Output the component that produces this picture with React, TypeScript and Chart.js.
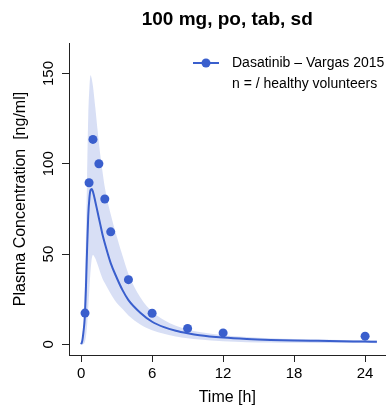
import React, { useEffect, useRef } from "react";
import { Chart, registerables } from "chart.js";

Chart.register(...registerables);

// Observed data (Vargas 2015)
const obsTime = [0.33, 0.67, 1, 1.5, 2, 2.5, 4, 6, 9, 12, 24];
const obsConc = [17.3, 89.5, 113.5, 100, 80.5, 62.3, 35.8, 17.2, 8.8, 6.3, 4.5];

// Simulated profile
const simTime = [0, 0.1, 0.2, 0.3, 0.4, 0.5, 0.6, 0.7, 0.8, 0.9, 1.0, 1.2, 1.4, 1.6, 1.8, 2.0, 2.5, 3, 3.5, 4, 5, 6, 7, 8, 9, 10, 12, 14, 16, 18, 20, 22, 24, 25];
const simMean = [0, 2, 7, 14, 30, 52, 71, 81, 85.5, 86, 84.5, 79, 73, 67, 61, 56, 45, 37, 30, 24.5, 17.5, 12.5, 9.5, 7.5, 6.1, 5, 3.7, 2.9, 2.4, 2.1, 1.9, 1.7, 1.5, 1.4];
const simUpper = [0, 2, 10, 30, 57, 92, 126, 142, 149, 147, 143, 131, 118, 106, 96, 87, 72, 60, 49, 39, 26, 18, 13.5, 10.3, 8.2, 6.8, 5, 4, 3.3, 2.9, 2.6, 2.4, 2.2, 2.1];
const simLower = [0, 0, 0.3, 1, 4, 10, 20, 31, 41, 47.5, 49.5, 47.5, 44, 40, 36.5, 34, 28, 23, 19.5, 16, 11, 7.8, 5.8, 4.3, 3.3, 2.6, 1.7, 1.2, 1.0, 0.85, 0.75, 0.7, 0.65, 0.6];

// Axis ticks
const xTicks = [0, 6, 12, 18, 24];
const yTicks = [0, 50, 100, 150];

// Texts
const titleText = "100 mg, po, tab, sd";
const xTitle = "Time [h]";
const yTitle = "Plasma Concentration  [ng/ml]";
const legendLines = ["Dasatinib \u2013 Vargas 2015", "n = / healthy volunteers"];

const BLUE = "#3A5FCD";
const BAND = "rgba(58,95,205,0.2)";
const FONT = "'Liberation Sans', Arial, Helvetica, sans-serif";

export default function App() {
  const ref = useRef<HTMLCanvasElement>(null);

  useEffect(() => {
    document.body.style.margin = "0";
    const canvas = ref.current!;
    const toXY = (xs: number[], ys: number[]) => xs.map((x, i) => ({ x, y: ys[i] }));

    const legendPlugin = {
      id: "customLegend",
      afterDraw(chart: any) {
        const ctx = chart.ctx as CanvasRenderingContext2D;
        ctx.save();
        ctx.strokeStyle = BLUE;
        ctx.lineWidth = 2;
        ctx.beginPath();
        ctx.moveTo(193, 63);
        ctx.lineTo(219, 63);
        ctx.stroke();
        ctx.fillStyle = BLUE;
        ctx.beginPath();
        ctx.arc(206, 63, 4.5, 0, Math.PI * 2);
        ctx.fill();
        ctx.fillStyle = "#000";
        ctx.font = `14px ${FONT}`;
        ctx.textAlign = "left";
        ctx.textBaseline = "middle";
        ctx.fillText(legendLines[0], 232, 63);
        ctx.fillText(legendLines[1], 232, 84);
        ctx.restore();
      },
    };

    const chart = new Chart(canvas, {
      type: "line",
      data: {
        datasets: [
          {
            label: "upper",
            data: toXY(simTime, simUpper),
            borderWidth: 0,
            pointRadius: 0,
            fill: "+1",
            backgroundColor: BAND,
            borderColor: "rgba(0,0,0,0)",
            cubicInterpolationMode: "monotone",
            order: 3,
          },
          {
            label: "lower",
            data: toXY(simTime, simLower),
            borderWidth: 0,
            pointRadius: 0,
            fill: false,
            borderColor: "rgba(0,0,0,0)",
            cubicInterpolationMode: "monotone",
            order: 3,
          },
          {
            label: "mean",
            data: toXY(simTime, simMean),
            borderColor: BLUE,
            borderWidth: 2,
            pointRadius: 0,
            fill: false,
            cubicInterpolationMode: "monotone",
            order: 2,
          },
          {
            label: "obs",
            data: toXY(obsTime, obsConc),
            showLine: false,
            pointRadius: 4.5,
            pointBackgroundColor: BLUE,
            pointBorderWidth: 0,
            borderColor: BLUE,
            order: 1,
          },
        ],
      } as any,
      options: {
        responsive: false,
        animation: false,
        events: [],
        layout: { padding: 0 },
        plugins: {
          legend: { display: false },
          tooltip: { enabled: false },
          title: {
            display: true,
            text: titleText,
            fullSize: false,
            color: "#000",
            font: { family: FONT, size: 19, weight: "bold", lineHeight: 1.2 },
            padding: { top: 8.1, bottom: 12.1 },
          },
        },
        scales: {
          x: {
            type: "linear",
            min: -1.025,
            max: 25.725,
            afterBuildTicks: (s: any) => {
              s.ticks = xTicks.map((v) => ({ value: v }));
            },
            afterFit: (s: any) => {
              s.height = 57;
            },
            grid: { drawOnChartArea: false, drawTicks: true, tickLength: 7, color: "#222" },
            border: { display: true, color: "#222", width: 1 },
            ticks: {
              autoSkip: false,
              maxRotation: 0,
              padding: 3,
              color: "#000",
              font: { family: FONT, size: 15 },
            },
            title: {
              display: true,
              text: xTitle,
              color: "#000",
              font: { family: FONT, size: 16, lineHeight: 1.2 },
              padding: { top: 0, bottom: 4.5 },
            },
          },
          y: {
            type: "linear",
            min: -5.93,
            max: 166.9,
            afterBuildTicks: (s: any) => {
              s.ticks = yTicks.map((v) => ({ value: v }));
            },
            afterFit: (s: any) => {
              s.width = 69;
            },
            grid: { drawOnChartArea: false, drawTicks: true, tickLength: 7, color: "#222" },
            border: { display: true, color: "#222", width: 1 },
            ticks: {
              autoSkip: false,
              minRotation: 90,
              maxRotation: 90,
              crossAlign: "center",
              padding: 0.5,
              color: "#000",
              font: { family: FONT, size: 15 },
            },
            title: {
              display: true,
              text: yTitle,
              color: "#000",
              font: { family: FONT, size: 16, lineHeight: 1.2 },
              padding: { top: 11.4, bottom: 0 },
            },
          },
        },
      } as any,
      plugins: [legendPlugin],
    });

    return () => chart.destroy();
  }, []);

  return (
    <div style={{ position: "absolute", left: 0, top: 0, width: 390, height: 412, background: "#fff" }}>
      <canvas ref={ref} width={390} height={412} />
    </div>
  );
}
